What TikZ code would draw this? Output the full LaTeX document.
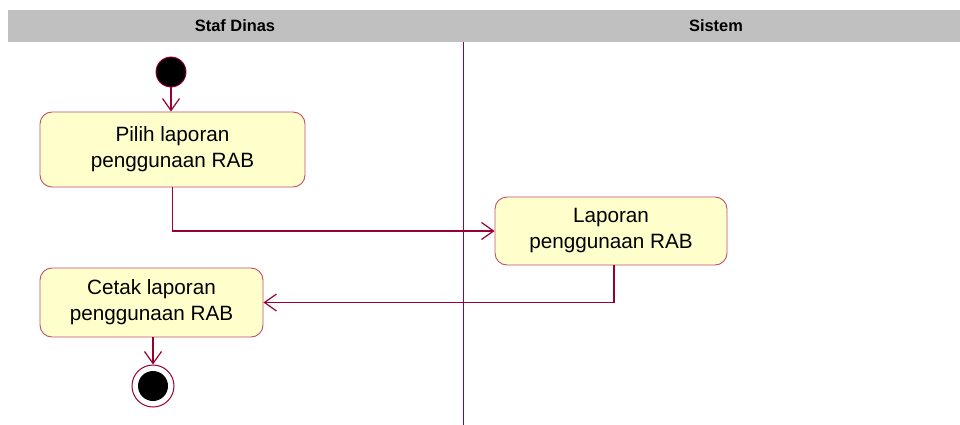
\documentclass[tikz,border=0pt]{standalone}
\usepackage{fontspec}
\setmainfont{Liberation Sans}
\usetikzlibrary{arrows.meta}
\definecolor{umlline}{RGB}{153,0,51}
\definecolor{umlborder}{RGB}{190,80,110}
\definecolor{umlfill}{RGB}{255,255,204}
\definecolor{hdrgray}{RGB}{192,192,192}
\tikzset{
  actbox/.style={draw=umlborder, line width=0.9pt, fill=umlfill, rounded corners=12pt,
    align=center, inner sep=0pt, font=\fontsize{20.7}{26}\selectfont},
  flow/.style={draw=umlline, line width=1.3pt, -{Straight Barb[length=12pt,width=17pt,line width=1.2pt]}},
  hdr/.style={font=\fontsize{16.4}{19}\bfseries\selectfont},
}
\begin{document}
\begin{tikzpicture}[x=1pt,y=-1pt]
\useasboundingbox (0,0) rectangle (960,425);
% header
\fill[hdrgray] (8,10) rectangle (960,42);
\node[hdr] (h1) at (235,26) {Staf Dinas};
\node[hdr] (h2) at (716,26) {Sistem};
% divider
\draw[umlline, line width=0.8pt] (463,42) -- (463,425);
% nodes
\node[circle, fill=black, draw=umlline, line width=0.9pt, minimum size=30pt, inner sep=0pt] (start) at (171,72) {};
\node[actbox, minimum width=265pt, minimum height=75pt] (b1) at (172.5,149.5) {Pilih laporan\\penggunaan RAB};
\node[actbox, minimum width=232pt, minimum height=68pt] (b2) at (611,231) {Laporan\\penggunaan RAB};
\node[actbox, minimum width=223pt, minimum height=69pt] (b3) at (151.5,302.5) {Cetak laporan\\penggunaan RAB};
\node[circle, fill=white, draw=umlline, line width=1pt, minimum size=42pt, inner sep=0pt] (end) at (153,386) {};
\node[circle, fill=black, minimum size=30pt, inner sep=0pt] (endin) at (end) {};
% connectors
\draw[flow] (start.south) -- (start.south |- b1.north);
\draw[flow] (b1.south) |- (b2.west);
\draw[flow] ([xshift=3pt]b2.south) |- (b3.east);
\draw[flow] (end |- b3.south) -- (end.north);
\end{tikzpicture}
\end{document}
